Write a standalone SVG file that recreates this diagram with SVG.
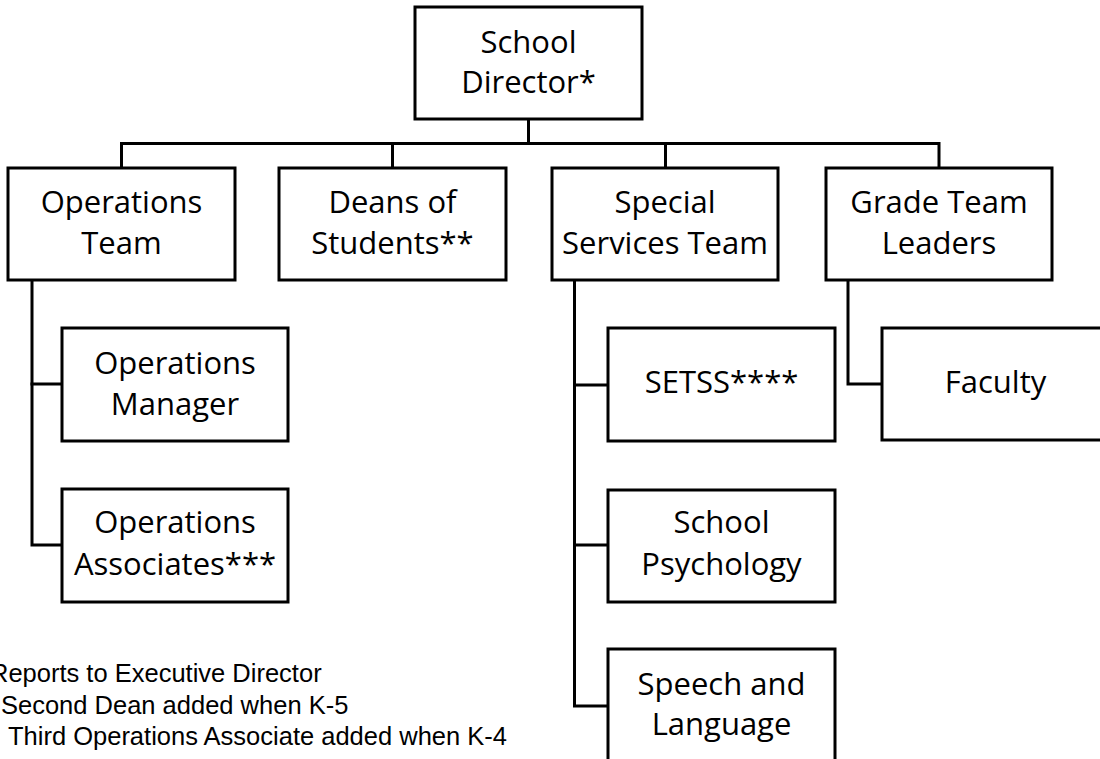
<svg xmlns="http://www.w3.org/2000/svg" width="1100" height="759" viewBox="0 0 1100 759">
  <style>
    .box { fill: #ffffff; stroke: #000000; stroke-width: 3; }
    .lbl { font-family: "Open Sans", "Noto Sans", sans-serif; font-size: 31px; fill: #000000; text-anchor: middle; }
    .note { font-family: "Liberation Sans", Arial, sans-serif; font-size: 25.5px; fill: #000000; }
    .conn { fill: none; stroke: #000000; stroke-width: 3; stroke-linejoin: miter; stroke-linecap: square; }
  </style>
  <rect width="1100" height="759" fill="#ffffff"/>

  <g id="connectors">
    <path class="conn" d="M528.5,119 V143.5"/>
    <path class="conn" d="M121.5,168 V143.5 H939 V168"/>
    <path class="conn" d="M392.5,143.5 V168"/>
    <path class="conn" d="M665.5,143.5 V168"/>
    <path class="conn" d="M32,280 V545 H62"/>
    <path class="conn" d="M32,384 H62"/>
    <path class="conn" d="M574.5,280 V706 H608"/>
    <path class="conn" d="M574.5,385 H608"/>
    <path class="conn" d="M574.5,545 H608"/>
    <path class="conn" d="M848,280 V384 H882"/>
  </g>

  <g id="school-director">
    <rect class="box" x="415" y="7" width="227" height="112"/>
    <text class="lbl" x="528.5" y="53">School</text>
    <text class="lbl" x="528.5" y="93">Director*</text>
  </g>

  <g id="operations-team">
    <rect class="box" x="8" y="168" width="227" height="112"/>
    <text class="lbl" x="121.5" y="213">Operations</text>
    <text class="lbl" x="121.5" y="254">Team</text>
  </g>

  <g id="deans-of-students">
    <rect class="box" x="279" y="168" width="227" height="112"/>
    <text class="lbl" x="392.5" y="213">Deans of</text>
    <text class="lbl" x="392.5" y="254">Students**</text>
  </g>

  <g id="special-services-team">
    <rect class="box" x="552" y="168" width="226" height="112"/>
    <text class="lbl" x="665" y="213">Special</text>
    <text class="lbl" x="665" y="254">Services Team</text>
  </g>

  <g id="grade-team-leaders">
    <rect class="box" x="826" y="168" width="226" height="112"/>
    <text class="lbl" x="939" y="213">Grade Team</text>
    <text class="lbl" x="939" y="254">Leaders</text>
  </g>

  <g id="operations-manager">
    <rect class="box" x="62" y="328" width="226" height="113"/>
    <text class="lbl" x="175" y="374">Operations</text>
    <text class="lbl" x="175" y="415">Manager</text>
  </g>

  <g id="operations-associates">
    <rect class="box" x="62" y="489" width="226" height="113"/>
    <text class="lbl" x="175" y="533">Operations</text>
    <text class="lbl" x="175" y="575">Associates***</text>
  </g>

  <g id="setss">
    <rect class="box" x="608" y="328" width="227" height="113"/>
    <text class="lbl" x="721.5" y="393">SETSS****</text>
  </g>

  <g id="school-psychology">
    <rect class="box" x="608" y="490" width="227" height="112"/>
    <text class="lbl" x="721.5" y="533">School</text>
    <text class="lbl" x="721.5" y="575">Psychology</text>
  </g>

  <g id="speech-and-language">
    <rect class="box" x="608" y="649" width="227" height="113"/>
    <text class="lbl" x="721.5" y="695">Speech and</text>
    <text class="lbl" x="721.5" y="735">Language</text>
  </g>

  <g id="faculty">
    <rect class="box" x="882" y="328" width="227" height="112"/>
    <text class="lbl" x="995.5" y="393">Faculty</text>
  </g>

  <g id="footnotes">
    <text class="note" x="-10" y="682">Reports to Executive Director</text>
    <text class="note" x="1" y="714">Second Dean added when K-5</text>
    <text class="note" x="8" y="745">Third Operations Associate added when K-4</text>
  </g>
</svg>
